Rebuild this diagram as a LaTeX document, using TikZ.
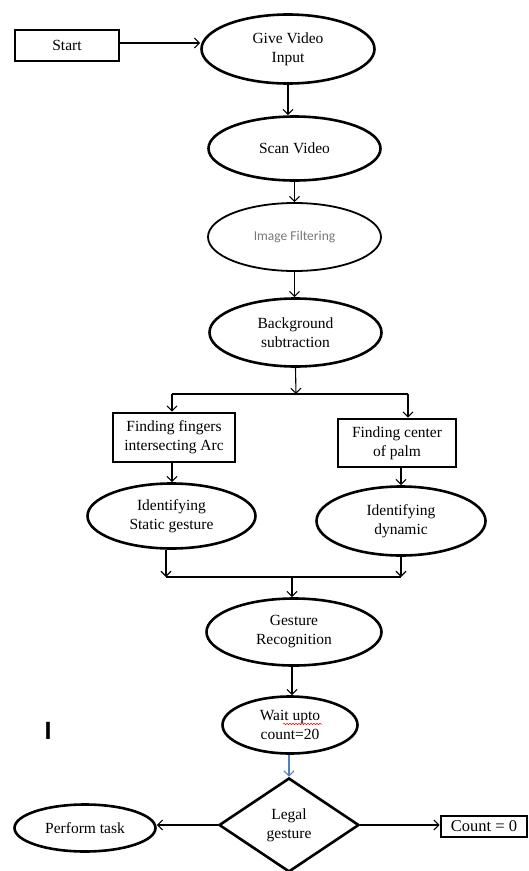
\documentclass[tikz,border=0pt]{standalone}
\usepackage{fontspec}
\setmainfont{Liberation Serif}
\newfontfamily\calib{Carlito}
\newfontfamily\arialf{Liberation Sans}
\usetikzlibrary{shapes.geometric,arrows.meta,decorations.pathmorphing,calc}
\definecolor{bluearr}{RGB}{79,129,189}
\definecolor{filtgray}{RGB}{120,120,120}
\begin{document}
\begin{tikzpicture}[x=1pt,y=-1pt,
  txt/.style={align=center,font=\fontsize{15.5}{19}\selectfont},
  ell/.style={ellipse,draw,line width=2.6pt,inner sep=0pt,txt},
  bx/.style={rectangle,draw,line width=2.6pt,inner sep=0pt,txt},
  dia/.style={diamond,draw,line width=2.6pt,inner sep=0pt,txt},
  ln/.style={line width=1.1pt},
  arr/.style={line width=1.1pt,-{Straight Barb[length=5pt,width=10pt,line width=1.1pt]}}]
\useasboundingbox (0,0) rectangle (528,871);
\clip (0,0) rectangle (528,871);
\fill[white] (0,0) rectangle (528,871);

\node[bx,minimum width=104,minimum height=31] (start) at (67,45.5) {Start};
\node[ell,minimum width=173,minimum height=69] (give) at (288,49) {Give Video\\Input};
\node[ell,minimum width=172,minimum height=64] (scan) at (294.5,148.5) {Scan Video};
\node[ellipse,draw,line width=1.8pt,inner sep=0pt,minimum width=173,minimum height=68,
      font=\calib\fontsize{13.5}{16}\selectfont,text=filtgray] (filt) at (294.5,237) {Image Filtering};
\node[ell,minimum width=172,minimum height=68] (bg) at (295.5,332.5) {Background\\subtraction};
\node[bx,minimum width=122,minimum height=49] (fing) at (174,437.5) {Finding fingers\\intersecting Arc};
\node[bx,minimum width=118,minimum height=48] (palm) at (397,443) {Finding center\\of palm};
\node[ell,minimum width=168,minimum height=65] (stat) at (171.5,516) {Identifying\\Static gesture};
\node[ell,minimum width=169,minimum height=69] (dyn) at (401,521) {Identifying\\dynamic};
\node[ell,minimum width=175,minimum height=67] (gest) at (294,632) {Gesture\\Recognition};
\node[ell,minimum width=135,minimum height=57] (wait) at (290,725) {Wait upto\\count=20};
\node[dia,minimum width=140,minimum height=94] (legal) at (289,825) {Legal\\gesture};
\node[ell,minimum width=141,minimum height=47] (perf) at (85,828) {Perform task};
\node[bx,minimum width=86,minimum height=21,font=\fontsize{16.5}{19}\selectfont] (count) at (484,826.5) {Count = 0};
\node[font=\arialf\bfseries\fontsize{25}{25}\selectfont,inner sep=0pt] (bar) at (48,731) {I};

\draw[red,line width=0.5pt,decorate,decoration={snake,amplitude=0.8pt,segment length=3pt}]
  ($(wait.center)+(-7,-1)$) -- ($(wait.center)+(32,-1)$);

\coordinate (sp) at (296,394);
\coordinate (spL) at (172,394);
\coordinate (spR) at (408,394);
\coordinate (mL) at (166,577);
\coordinate (mR) at (401,577);
\coordinate (mM) at (292,577);

\draw[arr] (start.east |- 0,43) -- (200,43 -| give.west);
\draw[arr] (give.south) -- (give.south |- scan.north);
\draw[arr] (scan.south) -- (scan.south |- filt.north);
\draw[arr] (filt.south) -- (filt.south |- bg.north);
\draw[arr] (bg.south) -- (sp);
\draw[ln] (spL) -- (spR);
\draw[arr] (spL) -- (spL |- fing.north);
\draw[arr] (spR) -- (spR |- palm.north);
\draw[arr] (fing.south -| spL) -- (spL |- stat.north);
\draw[arr] (palm.south -| dyn.north) -- (dyn.north);
\draw[arr] (stat.south -| mL) -- (mL);
\draw[arr] (dyn.south) -- (mR);
\draw[ln] (mL) -- (mR);
\draw[arr] (mM) -- (mM |- gest.north);
\draw[arr] (gest.south -| mM) -- (mM |- wait.north);
\draw[arr,bluearr] (legal.north |- wait.south) -- (legal.north);
\draw[arr] (legal.west) -- (legal.west -| perf.east);
\draw[arr] (legal.east) -- (legal.east -| count.west);
\end{tikzpicture}
\end{document}
